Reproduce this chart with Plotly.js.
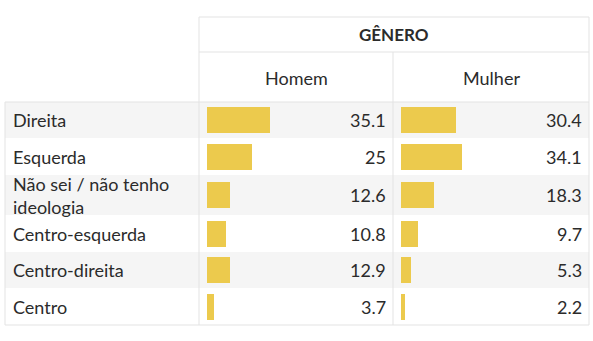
<!DOCTYPE html>
<html>
<head>
<meta charset="utf-8">
<script src="https://cdn.plot.ly/plotly-3.0.1.min.js"></script>
<style>html,body{margin:0;padding:0;background:#fff;}#chart{width:593px;height:341px;}</style>
</head>
<body>
<div id="chart"></div>
<script>
// ---- data ----
const categories = ["Direita", "Esquerda", "Não sei / não tenho<br>ideologia", "Centro-esquerda", "Centro-direita", "Centro"];
const homem = [35.1, 25, 12.6, 10.8, 12.9, 3.7];
const mulher = [30.4, 34.1, 18.3, 9.7, 5.3, 2.2];
const groupTitle = "GÊNERO";
const columnTitles = ["Homem", "Mulher"];

// ---- layout geometry (pixels) ----
const W = 593, H = 341;
const rowEdges = [102, 138, 175, 215, 252, 288, 325];
const colEdges = [5, 199, 393, 589];
const headTop = 17, headMid = 52;
const barH = 26;
const px = x => x / W;
const gridColor = "#e3e3e3";
const barColor = "#ecca4d";
const textColor = "#2b2b2b";
const FONT = "Lato, 'Open Sans', sans-serif";
const FS = 18;

const rowCenters = categories.map((_, i) => (rowEdges[i] + rowEdges[i + 1]) / 2);

const traces = [
  {type: "bar", orientation: "h", x: homem, y: rowCenters, width: barH, xaxis: "x", yaxis: "y",
   marker: {color: barColor}, hoverinfo: "skip", showlegend: false},
  {type: "bar", orientation: "h", x: mulher, y: rowCenters, width: barH, xaxis: "x2", yaxis: "y",
   marker: {color: barColor}, hoverinfo: "skip", showlegend: false}
];

const shapes = [];
categories.forEach((_, i) => {
  if (i % 2 === 0) {
    shapes.push({type: "rect", xref: "paper", yref: "y", x0: px(colEdges[0]), x1: px(colEdges[3]),
      y0: rowEdges[i], y1: rowEdges[i + 1], fillcolor: "#f5f5f5", line: {width: 0}, layer: "below"});
  }
});
const line = (x0, y0, x1, y1) => shapes.push({type: "line", xref: "paper", yref: "y",
  x0: px(x0), x1: px(x1), y0: y0, y1: y1, line: {color: gridColor, width: 1}, layer: "above"});
const bottom = rowEdges[rowEdges.length - 1];
line(colEdges[1], headTop, colEdges[3], headTop);
line(colEdges[1], headMid, colEdges[3], headMid);
line(colEdges[0], rowEdges[0], colEdges[3], rowEdges[0]);
line(colEdges[0], bottom, colEdges[3], bottom);
line(colEdges[0], rowEdges[0], colEdges[0], bottom);
line(colEdges[1], headTop, colEdges[1], bottom);
line(colEdges[2], headMid, colEdges[2], bottom);
line(colEdges[3], headTop, colEdges[3], bottom);

const annotations = [];
const font = (size) => ({family: FONT, size: size, color: textColor});
annotations.push({text: "<b>" + groupTitle + "</b>", xref: "paper", yref: "y",
  x: px((colEdges[1] + colEdges[3]) / 2), y: (headTop + headMid) / 2, showarrow: false,
  xanchor: "center", yanchor: "middle", font: font(17)});
columnTitles.forEach((t, j) => annotations.push({text: t, xref: "paper", yref: "y",
  x: px((colEdges[j + 1] + colEdges[j + 2]) / 2), y: (headMid + rowEdges[0]) / 2 + 1, showarrow: false,
  xanchor: "center", yanchor: "middle", font: font(FS)}));
categories.forEach((c, i) => {
  annotations.push({text: c, xref: "paper", yref: "y", x: px(11), y: rowCenters[i], showarrow: false,
    xanchor: "left", yanchor: "middle", align: "left", font: font(FS)});
  [homem, mulher].forEach((arr, j) => annotations.push({text: String(arr[i]), xref: "paper", yref: "y",
    x: px(colEdges[j + 2] - 5), y: rowCenters[i], showarrow: false, xanchor: "right", yanchor: "middle",
    font: font(FS)}));
});

const layout = {
  width: W, height: H, margin: {l: 0, r: 0, t: 0, b: 0},
  paper_bgcolor: "#fff", plot_bgcolor: "rgba(0,0,0,0)",
  xaxis: {domain: [px(207), px(387)], range: [0, 100], visible: false, fixedrange: true},
  xaxis2: {domain: [px(401), px(581)], range: [0, 100], visible: false, fixedrange: true, anchor: "y"},
  yaxis: {domain: [0, 1], range: [H, 0], visible: false, fixedrange: true},
  shapes: shapes, annotations: annotations, showlegend: false, bargap: 0
};

Plotly.newPlot("chart", traces, layout, {displayModeBar: false, staticPlot: true});
</script>
</body>
</html>
